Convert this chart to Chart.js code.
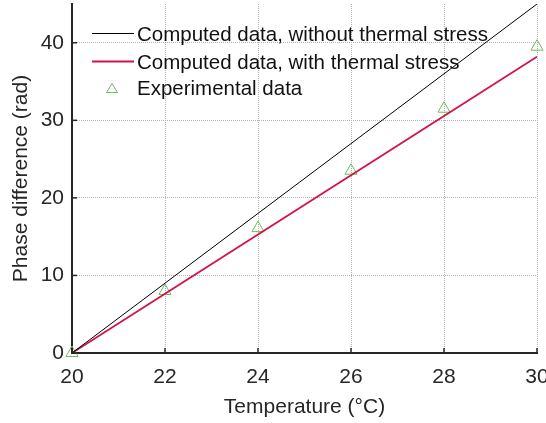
<!DOCTYPE html>
<html>
<head>
<meta charset="utf-8">
<script src="https://cdn.jsdelivr.net/npm/chart.js@4.4.1/dist/chart.umd.min.js"></script>
<style>
  html, body { margin: 0; padding: 0; background: #fff; }
  #wrap { width: 546px; height: 423px; position: relative; }
</style>
</head>
<body>
<div id="wrap"><canvas id="phaseChart"></canvas></div>
<script>
// temperatures (°C)
const temps = [20, 22, 24, 26, 28, 30];
// phase difference (rad)
const withoutStress = [0, 9, 18, 27, 36, 45];
const withStress = [0, 7.64, 15.28, 22.92, 30.56, 38.2];
const experimental = [0, 8.0, 16.1, 23.5, 31.5, 39.5];
const legendLabels = [
  "Computed data, without thermal stress",
  "Computed data, with thermal stress",
  "Experimental data"
];

const axisColor = "#262626";
const fontFamily = "'Liberation Sans', Arial, sans-serif";

const toPoints = (ys) => temps.map((t, i) => ({ x: t, y: ys[i] }));

// legend drawn inside the plot area, no frame
const insideLegend = {
  id: "insideLegend",
  afterDatasetsDraw(chart) {
    const { ctx } = chart;
    const x0 = chart.chartArea.left + 20;
    const rows = [33.5, 61.5, 88];
    ctx.save();
    ctx.font = "20.5px " + fontFamily;
    ctx.textBaseline = "middle";
    chart.data.datasets.forEach((ds, i) => {
      const y = rows[i];
      ctx.strokeStyle = ds.borderColor;
      if (ds.showLine === false) {
        ctx.lineWidth = 1;
        ctx.beginPath();
        ctx.moveTo(x0 + 20, y - 4.5);
        ctx.lineTo(x0 + 25.5, y + 4.5);
        ctx.lineTo(x0 + 14.5, y + 4.5);
        ctx.closePath();
        ctx.stroke();
      } else {
        ctx.lineWidth = ds.borderWidth;
        ctx.beginPath();
        ctx.moveTo(x0, y);
        ctx.lineTo(x0 + 42, y);
        ctx.stroke();
      }
      ctx.fillStyle = "#111";
      ctx.fillText(legendLabels[i], x0 + 45, y + 1.5);
    });
    ctx.restore();
  }
};

// small inward tick marks on both axes
const innerTicks = {
  id: "innerTicks",
  afterDraw(chart) {
    const { ctx, chartArea, scales } = chart;
    ctx.save();
    ctx.strokeStyle = axisColor;
    ctx.lineWidth = 1.5;
    scales.x.ticks.forEach((t) => {
      const px = scales.x.getPixelForValue(t.value);
      ctx.beginPath();
      ctx.moveTo(px, chartArea.bottom);
      ctx.lineTo(px, chartArea.bottom - 5);
      ctx.stroke();
    });
    scales.y.ticks.forEach((t) => {
      const py = scales.y.getPixelForValue(t.value);
      ctx.beginPath();
      ctx.moveTo(chartArea.left, py);
      ctx.lineTo(chartArea.left + 5, py);
      ctx.stroke();
    });
    ctx.restore();
  }
};

new Chart(document.getElementById("phaseChart").getContext("2d"), {
  type: "line",
  data: {
    datasets: [
      {
        label: legendLabels[0],
        data: toPoints(withoutStress),
        borderColor: "#000000",
        borderWidth: 1,
        pointRadius: 0,
        fill: false
      },
      {
        label: legendLabels[1],
        data: toPoints(withStress),
        borderColor: "#d4114a",
        borderWidth: 1.8,
        pointRadius: 0,
        fill: false
      },
      {
        label: legendLabels[2],
        data: toPoints(experimental),
        showLine: false,
        borderColor: "#6cbf5a",
        backgroundColor: "rgba(0,0,0,0)",
        pointStyle: "triangle",
        pointRadius: 7,
        pointBorderWidth: 1,
        clip: false
      }
    ]
  },
  options: {
    responsive: true,
    maintainAspectRatio: false,
    animation: false,
    layout: { autoPadding: false, padding: { top: 4, right: 9, left: 0, bottom: 0 } },
    plugins: {
      legend: { display: false },
      tooltip: { enabled: false }
    },
    scales: {
      x: {
        type: "linear",
        min: 20,
        max: 30,
        ticks: {
          stepSize: 2,
          color: axisColor,
          font: { family: fontFamily, size: 21 },
          padding: 12
        },
        grid: { color: "#b3b3b3", lineWidth: 1, drawTicks: false },
        border: { display: true, color: axisColor, width: 2, dash: [1, 1] },
        title: {
          display: true,
          text: "Temperature (°C)",
          color: axisColor,
          font: { family: fontFamily, size: 21 },
          padding: { top: 8, bottom: 3 }
        },
        afterFit: (s) => {
          s.height = 70;
          s.paddingLeft = 0;
          s.paddingRight = 0;
        }
      },
      y: {
        min: 0,
        max: 45,
        afterBuildTicks: (s) => { s.ticks = s.ticks.filter((t) => t.value % 10 === 0); },
        ticks: {
          stepSize: 10,
          color: axisColor,
          font: { family: fontFamily, size: 21 },
          padding: 8
        },
        grid: {
          color: (c) => (c.tick && c.tick.value === 0 ? "rgba(0,0,0,0)" : "#b3b3b3"),
          lineWidth: 1,
          drawTicks: false
        },
        border: { display: true, color: axisColor, width: 2, dash: [1, 1] },
        title: {
          display: true,
          text: "Phase difference (rad)",
          color: axisColor,
          font: { family: fontFamily, size: 21 },
          padding: { top: 9, bottom: 0 }
        },
        afterFit: (s) => {
          s.width = 72;
          s.paddingTop = 0;
          s.paddingBottom = 0;
        }
      }
    }
  },
  plugins: [insideLegend, innerTicks]
});
</script>
</body>
</html>
